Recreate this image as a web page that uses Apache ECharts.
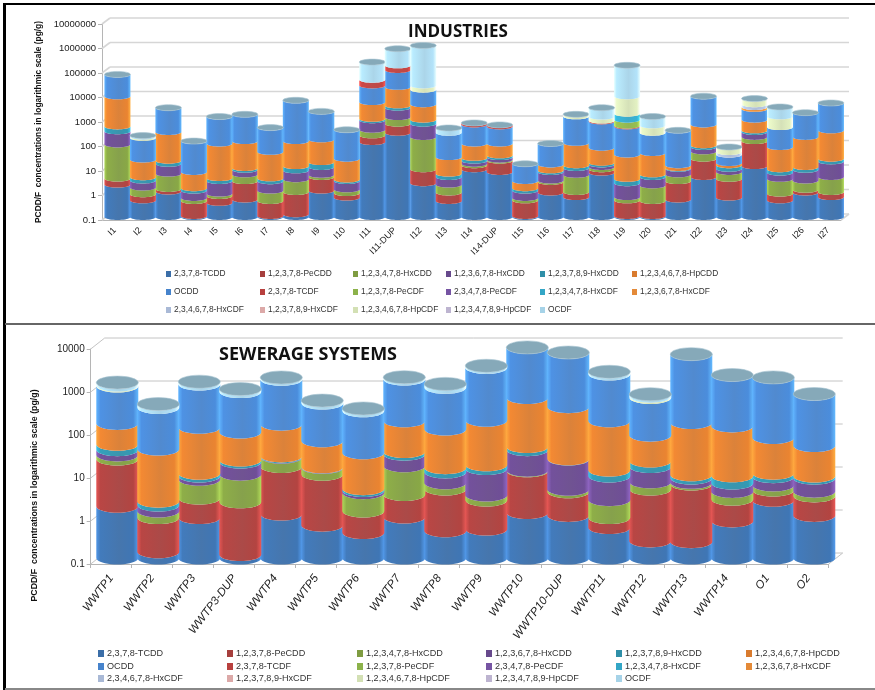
<!DOCTYPE html>
<html><head><meta charset="utf-8">
<style>html,body{margin:0;padding:0;background:#fff}#c{width:875px;height:690px}</style>
<script src="https://cdn.jsdelivr.net/npm/echarts@6/dist/echarts.min.js"></script>
</head><body><div id="c"></div>
<script>
const congeners=['2,3,7,8-TCDD','1,2,3,7,8-PeCDD','1,2,3,4,7,8-HxCDD','1,2,3,6,7,8-HxCDD','1,2,3,7,8,9-HxCDD','1,2,3,4,6,7,8-HpCDD','OCDD','2,3,7,8-TCDF','1,2,3,7,8-PeCDF','2,3,4,7,8-PeCDF','1,2,3,4,7,8-HxCDF','1,2,3,6,7,8-HxCDF','2,3,4,6,7,8-HxCDF','1,2,3,7,8,9-HxCDF','1,2,3,4,6,7,8-HpCDF','1,2,3,4,7,8,9-HpCDF','OCDF'];
const colors=['#3b6ea8','#a63f3d','#7f9c41','#67498c','#2f8fa8','#d97b2e','#4683cc','#b8403e','#8cb24a','#7654a3','#33a6c6','#e48a38','#a9b9d6','#dca9a8','#d3e0b4','#bdb4d0','#a6d3e8'];
const capColor='#86a9b9';

const indCats=['I1','I2','I3','I4','I5','I6','I7','I8','I9','I10','I11','I11-DUP','I12','I13','I14','I14-DUP','I15','I16','I17','I18','I19','I20','I21','I22','I23','I24','I25','I26','I27'];
const ind_TCDD=[2.1,.48,1.1,.11,.38,.52,.11,.13,1.2,.62,115,275,2.4,.45,8.9,6.9,.11,1,.65,6.5,.11,.11,.52,4.3,.62,12,.48,1,.65];
const ind_PeCDD=[1.6,.37,.3,.34,.34,2.4,.34,.92,3.1,.33,100,370,6.5,.55,4.1,13,.37,1.7,.4,2.4,.37,.34,2.4,19.7,3,114,.42,.3,.4];
const ind_HxCDD478=[88,.75,4.5,.15,.18,2.6,.75,2.45,1,.4,150,555,176,1.1,2,2,.12,.4,4.25,2.1,.17,1.5,2.6,24,3.3,60,2.7,1.8,3.25];
const ind_HxCDD678=[224,1.5,9,.6,2.05,3,1.7,4.5,5.7,1.6,525,1700,460,2.2,5,6,.6,3.8,4.7,3,1.75,2.35,3.8,24,2.4,110,2.9,5.4,14.3];
const ind_HxCDD789=[184,1.1,5,.3,.95,1.5,.9,4,6.5,.45,130,700,295,1.6,6,5,.3,1.1,3,2.5,1.2,1.2,.7,13,3.7,50,2.4,2.5,5.4];
const ind_HpCDD=[7900,18,275,5.4,96,116,42,114,130,20.6,3880,16900,3060,22,74,67,1.45,6,94,51,32,35.5,3,515,3,595,63,175,321];
const ind_OCDD=[57600,148,2600,119,1160,1424,400,5670,1900,341,18600,79500,11800,247,500,400,12,86,1180,732,464,234,332,7900,19,1660,398,1634,4155];
const ind_TCDF=[0,0,0,0,0,0,0,0,0,0,16500,55000,0,0,90,75,0,0,0,60,40,0,0,0,0,0,0,0,0];
const ind_PeCDF12378=[0,0,0,0,0,0,0,0,0,0,0,0,0,0,0,0,0,0,0,0,400,0,0,0,0,0,0,0,0];
const ind_PeCDF23478=[0,0,0,0,0,0,0,0,0,0,0,0,0,0,0,0,0,0,0,0,0,0,0,0,0,0,0,0,0];
const ind_HxCDF478=[0,0,0,0,0,0,0,0,0,0,0,0,0,0,0,0,0,0,0,0,710,0,0,0,0,0,0,0,0];
const ind_HxCDF678=[0,0,0,0,0,0,0,0,0,0,0,0,0,0,0,0,0,0,0,0,0,0,0,0,0,500,0,0,0];
const ind_HxCDF234=[0,0,0,0,0,0,0,0,0,0,0,0,0,0,0,0,0,0,0,0,0,0,0,0,10,900,0,0,0];
const ind_HxCDF789=[0,0,0,0,0,0,0,0,0,0,0,0,0,0,0,0,0,0,0,0,0,0,0,0,0,0,0,0,0];
const ind_HpCDF678=[0,20,0,0,0,0,0,0,0,0,0,0,7700,0,0,0,0,0,260,400,6850,275,0,0,27,2800,820,0,0];
const ind_HpCDF789=[0,0,0,0,0,0,0,0,0,0,0,0,0,0,0,0,0,0,0,0,0,0,0,0,0,0,0,0,0];
const ind_OCDF=[0,20,0,0,0,0,0,0,0,0,170000,585000,976000,155,0,0,0,0,0,1640,146500,710,0,0,0,0,1810,0,0];
const indSeries=[ind_TCDD,ind_PeCDD,ind_HxCDD478,ind_HxCDD678,ind_HxCDD789,ind_HpCDD,ind_OCDD,ind_TCDF,ind_PeCDF12378,ind_PeCDF23478,ind_HxCDF478,ind_HxCDF678,ind_HxCDF234,ind_HxCDF789,ind_HpCDF678,ind_HpCDF789,ind_OCDF];

const wwCats=['WWTP1','WWTP2','WWTP3','WWTP3-DUP','WWTP4','WWTP5','WWTP6','WWTP7','WWTP8','WWTP9','WWTP10','WWTP10-DUP','WWTP11','WWTP12','WWTP13','WWTP14','O1','O2'];
const ww_TCDD=[1.6,.14,.87,.12,1.05,.58,.39,.9,.43,.47,1.14,.98,.51,.25,.24,.73,2.2,.98];
const ww_PeCDD=[18.4,.73,1.6,1.9,12.4,8.3,.85,2.1,3.6,1.75,9.5,2.5,.36,3.75,5,1.6,1.6,1.8];
const ww_HxCDD478=[5,.37,4.3,6.9,8.6,3.8,2.06,11,1.6,.7,.4,.5,1.4,1.9,.5,1.2,1.2,.8];
const ww_HxCDD678=[8,.46,1.3,8.1,.6,.3,.4,12,4.4,9.1,22,16,5.8,7.5,1.5,2,2.8,3.6];
const ww_HxCDD789=[11,.4,1.3,2,1,.2,.4,4,2.6,2.7,6,.3,3,4.6,1.4,2.6,1.6,.9];
const ww_HpCDD=[91,32,100,66,106,40,24,125,87,145,500,310,144,54,133,110,54,33];
const ww_OCDD=[865,282,1000,655,1300,347,237,1295,830,2540,7360,5670,1745,468,5360,1680,1520,610];
const ww_TCDF=[0,0,0,0,0,0,0,0,0,0,0,0,0,0,0,0,0,0];
const ww_PeCDF12378=[0,0,0,0,0,0,0,0,0,0,0,0,0,0,0,0,0,0];
const ww_PeCDF23478=[0,0,0,0,0,0,0,0,0,0,0,0,0,0,0,0,0,0];
const ww_HxCDF478=[0,0,0,0,0,0,0,0,0,0,0,0,0,0,0,0,0,0];
const ww_HxCDF678=[0,0,0,0,0,0,0,0,0,0,0,0,0,0,0,0,0,0];
const ww_HxCDF234=[0,0,0,0,0,0,0,0,0,0,0,0,0,0,0,0,0,0];
const ww_HxCDF789=[0,0,0,0,0,0,0,0,0,0,0,0,0,0,0,0,0,0];
const ww_HpCDF678=[50,0,0,0,0,0,0,0,0,0,0,0,0,40,0,0,0,0];
const ww_HpCDF789=[0,0,0,0,0,0,0,0,0,0,0,0,0,0,0,0,0,0];
const ww_OCDF=[150,64,150,110,150,57,35,150,190,250,0,0,240,65,0,0,0,0];
const wwSeries=[ww_TCDD,ww_PeCDD,ww_HxCDD478,ww_HxCDD678,ww_HxCDD789,ww_HpCDD,ww_OCDD,ww_TCDF,ww_PeCDF12378,ww_PeCDF23478,ww_HxCDF478,ww_HxCDF678,ww_HxCDF234,ww_HxCDF789,ww_HpCDF678,ww_HpCDF789,ww_OCDF];

const indTicks=[0.1,1,10,100,1000,10000,100000,1000000,10000000];
const wwTicks=[0.1,1,10,100,1000,10000];
const yName='PCDD/F  concentrations in logarithmic scale (pg/g)';

const FONT='"Liberation Sans"';
const lift=echarts.color.lift;
function shade(c){
  return new echarts.graphic.LinearGradient(0,0,1,0,[
    {offset:0,color:lift(c,-0.38)},{offset:.1,color:lift(c,-0.12)},
    {offset:.55,color:lift(c,0.06)},{offset:.88,color:lift(c,-0.08)},{offset:1,color:lift(c,-0.42)}]);
}
function cylinderSeries(values,idx,axis,geo){
  const last=idx===values.length-1, sums=values[0].map(()=>0);
  for(let s=0;s<idx;s++) values[s].forEach((v,i)=>sums[i]+=v);
  const rows=values[idx].map((v,i)=>{
    const low=sums[i]; const high=low+v;
    return [i,v,low||geo.min,high||geo.min];
  });
  const fill=shade(colors[idx]);
  return {
    type:'custom',name:congeners[idx],xAxisIndex:axis,yAxisIndex:axis,z:3,
    itemStyle:{color:colors[idx]},silent:true,
    encode:{x:0,y:3},data:rows,
    renderItem(p,api){
      const i=api.value(0),v=api.value(1);
      const yT=api.coord([i,api.value(3)])[1]-geo.dy, yB=api.coord([i,api.value(2)])[1]-geo.dy;
      const cx=api.coord([i,api.value(3)])[0]+geo.dx, rx=geo.w/2, pts=[];
      for(let k=0;k<=20;k++){const a=Math.PI*(1-k/20);pts.push([cx+rx*Math.cos(a),yT+geo.ry*Math.sin(a)]);}
      for(let k=0;k<=20;k++){const a=Math.PI*(k/20);pts.push([cx+rx*Math.cos(a),yB+geo.ry*Math.sin(a)]);}
      const kids=[];
      if(v>0) kids.push({type:'polygon',shape:{points:pts},style:{fill:fill,stroke:null}});
      if(last) kids.push({type:'ellipse',shape:{cx:cx,cy:yT,rx:rx,ry:geo.ry},style:{fill:capColor,stroke:'#a9c6d3',lineWidth:.6}});
      return {type:'group',children:kids};
    }
  };
}
function wallSeries(ticks,axis,geo){
  return {
    type:'custom',xAxisIndex:axis,yAxisIndex:axis,z:1,silent:true,
    encode:{x:0,y:1},data:ticks.map(t=>[0,t]),
    renderItem(p,api){
      const cs=p.coordSys,y=api.coord([0,api.value(1)])[1];
      const st={stroke:geo.wall,lineWidth:geo.wallW};
      const kids=[
        {type:'line',shape:{x1:cs.x,y1:y,x2:cs.x+geo.wx,y2:y-geo.wy},style:st},
        {type:'line',shape:{x1:cs.x+geo.wx,y1:y-geo.wy,x2:cs.x+cs.width+geo.wx,y2:y-geo.wy},style:st}
      ];
      if(p.dataIndex===0) kids.push({type:'line',shape:{x1:cs.x+cs.width,y1:y,x2:cs.x+cs.width+geo.wx,y2:y-geo.wy},style:st});
      return {type:'group',children:kids};
    }
  };
}
const geoTop={dx:2.7,dy:3,ry:3,w:26,min:0.1,wx:8,wy:6,wall:'#d6d6d6',wallW:1.6};
const geoBot={dx:6.1,dy:6,ry:6.5,w:42,min:0.1,wx:14,wy:11,wall:'#c4c4c4',wallW:1};

const series=[wallSeries(indTicks,0,geoTop),wallSeries(wwTicks,1,geoBot)];
congeners.forEach((n,i)=>{series.push(cylinderSeries(indSeries,i,0,geoTop));});
congeners.forEach((n,i)=>{series.push(cylinderSeries(wwSeries,i,1,geoBot));});

const legends=[];
function addLegend(cols,rows,fs,w,h){
  congeners.forEach((n,i)=>{
    legends.push({data:[n],left:cols[i%6],top:rows[Math.floor(i/6)],orient:'horizontal',selectedMode:false,
      icon:'rect',itemWidth:w,itemHeight:h,itemGap:3,padding:0,
      textStyle:{fontFamily:FONT,fontSize:fs,color:'#333',padding:[0,0,0,-2]}});
  });
}
addLegend([166,260,353,446,540,632],[270,288,306],8.4,5,6);
addLegend([98,227,357,486,616,746],[649,662,674],9.1,6,7);

const fmt=v=>String(+(+v).toPrecision(3));
const yAxisBase=(gap,fs,extra)=>Object.assign({
  type:'log',logBase:10,min:0.1,axisLine:{show:true,lineStyle:{color:'#b5b5b5'}},
  axisTick:{show:true,length:4,lineStyle:{color:'#b5b5b5'}},splitLine:{show:false},
  axisLabel:{formatter:fmt,fontFamily:FONT,fontSize:fs,color:'#222',margin:6},
  name:yName,nameLocation:'middle',nameGap:gap
},extra);

const option={
  animation:false,backgroundColor:'#fff',
  title:[
    {text:'INDUSTRIES',left:408,top:24,textStyle:{fontFamily:'"Open Sans"',fontWeight:'bold',fontSize:17,color:'#111'},padding:0},
    {text:'SEWERAGE SYSTEMS',left:219,top:346,textStyle:{fontFamily:'"Open Sans"',fontWeight:'bold',fontSize:18,color:'#111'},padding:0}
  ],
  grid:[
    {left:102,top:24,width:739,height:196},
    {left:90.7,top:349,width:738,height:215}
  ],
  xAxis:[
    {type:'category',gridIndex:0,data:indCats,axisLine:{lineStyle:{color:'#b5b5b5'}},axisTick:{show:false},
      axisLabel:{interval:0,rotate:45,fontFamily:FONT,fontSize:9,color:'#222',margin:9}},
    {type:'category',gridIndex:1,data:wwCats,axisLine:{lineStyle:{color:'#b5b5b5'}},axisTick:{show:true,length:4,lineStyle:{color:'#b5b5b5'}},
      axisLabel:{interval:0,rotate:53,fontFamily:FONT,fontStyle:'italic',fontSize:11.5,color:'#222',margin:12}}
  ],
  yAxis:[
    yAxisBase(54,9.5,{gridIndex:0,max:10000000,nameTextStyle:{fontFamily:FONT,fontWeight:'bold',fontSize:8.4,color:'#111'}}),
    yAxisBase(52,10,{gridIndex:1,max:10000,nameTextStyle:{fontFamily:FONT,fontWeight:'bold',fontSize:8.8,color:'#111',padding:[0,78,0,0]}})
  ],
  legend:legends,
  graphic:[
    {type:'rect',shape:{x:3,y:3,width:872,height:2},style:{fill:'#000'}},
    {type:'rect',shape:{x:3,y:3,width:3,height:687},style:{fill:'#000'}},
    {type:'rect',shape:{x:5,y:323,width:870,height:2},style:{fill:'#666'}},
    {type:'rect',shape:{x:5,y:688,width:870,height:2},style:{fill:'#888'}}
  ],
  series:series
};
const chart=echarts.init(document.getElementById('c'),null,{renderer:'canvas'});
chart.setOption(option);
</script></body></html>
